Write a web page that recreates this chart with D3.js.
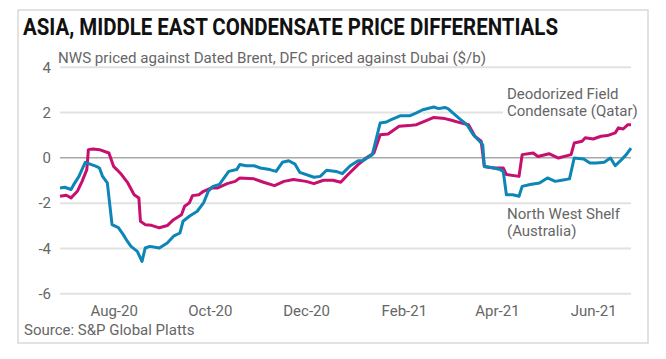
<!DOCTYPE html>
<html>
<head>
<meta charset="utf-8">
<script src="https://cdn.jsdelivr.net/npm/d3@7/dist/d3.min.js"></script>
<style>
  html, body { margin: 0; padding: 0; background: #fff; }
  svg { display: block; font-family: Roboto, "Noto Sans", sans-serif; }
</style>
</head>
<body>
<svg id="chart" width="666" height="359"></svg>
<script>
const titleText = "ASIA, MIDDLE EAST CONDENSATE PRICE DIFFERENTIALS";
const subtitleText = "NWS priced against Dated Brent, DFC priced against Dubai ($/b)";
const sourceText = "Source: S&P Global Platts";
const yTicks = [-6, -4, -2, 0, 2, 4];
const xTickDates = ["2020-08-01", "2020-10-01", "2020-12-01", "2021-02-01", "2021-04-01", "2021-06-01"];

// North West Shelf (Australia)
const nwsDates = ["2020-06-28","2020-07-01","2020-07-05","2020-07-07","2020-07-10","2020-07-14","2020-07-21","2020-07-23","2020-07-25","2020-07-28","2020-07-31","2020-08-04","2020-08-07","2020-08-09","2020-08-12","2020-08-16","2020-08-19","2020-08-21","2020-08-24","2020-08-30","2020-09-04","2020-09-08","2020-09-12","2020-09-14","2020-09-18","2020-09-23","2020-09-27","2020-09-30","2020-10-03","2020-10-07","2020-10-10","2020-10-13","2020-10-18","2020-10-20","2020-10-24","2020-10-29","2020-11-02","2020-11-08","2020-11-12","2020-11-16","2020-11-20","2020-11-24","2020-11-27","2020-12-06","2020-12-10","2020-12-14","2020-12-20","2020-12-24","2020-12-29","2021-01-03","2021-01-06","2021-01-12","2021-01-17","2021-01-21","2021-01-24","2021-01-30","2021-02-05","2021-02-09","2021-02-13","2021-02-20","2021-02-23","2021-02-27","2021-03-01","2021-03-04","2021-03-09","2021-03-13","2021-03-17","2021-03-21","2021-03-23","2021-03-24","2021-03-30","2021-04-03","2021-04-05","2021-04-07","2021-04-11","2021-04-15","2021-04-17","2021-04-22","2021-04-28","2021-05-03","2021-05-08","2021-05-12","2021-05-17","2021-05-20","2021-05-26","2021-05-30","2021-06-03","2021-06-08","2021-06-12","2021-06-15","2021-06-19","2021-06-22","2021-06-25"];
const nwsValues = [-1.35,-1.32,-1.42,-1.17,-0.84,-0.22,-0.4,-0.47,-0.84,-1.13,-2.97,-3.1,-3.4,-3.63,-3.93,-4.15,-4.59,-4.0,-3.93,-4.0,-3.78,-3.48,-3.34,-2.82,-2.6,-2.38,-2.01,-1.5,-1.28,-1.2,-0.91,-0.62,-0.54,-0.32,-0.37,-0.37,-0.47,-0.54,-0.62,-0.22,-0.15,-0.3,-0.66,-0.88,-0.84,-0.57,-0.62,-0.72,-0.37,-0.15,-0.15,0.12,1.52,1.56,1.66,1.84,1.84,1.96,2.1,2.22,2.15,2.2,2.15,1.96,1.66,1.44,1.0,0.71,0.56,-0.4,-0.47,-0.54,-0.62,-1.65,-1.65,-1.72,-1.28,-1.2,-1.13,-0.91,-1.06,-1.01,-0.95,-0.03,-0.07,-0.25,-0.25,-0.22,-0.03,-0.37,-0.1,0.12,0.41];

// Deodorized Field Condensate (Qatar)
const dfcDates = ["2020-06-28","2020-07-02","2020-07-05","2020-07-09","2020-07-12","2020-07-15","2020-07-16","2020-07-19","2020-07-23","2020-07-29","2020-08-01","2020-08-03","2020-08-06","2020-08-10","2020-08-14","2020-08-17","2020-08-18","2020-08-21","2020-08-25","2020-08-30","2020-09-04","2020-09-08","2020-09-13","2020-09-15","2020-09-18","2020-09-20","2020-09-24","2020-09-27","2020-10-02","2020-10-06","2020-10-12","2020-10-17","2020-10-20","2020-10-29","2020-11-04","2020-11-11","2020-11-17","2020-11-23","2020-12-01","2020-12-06","2020-12-12","2020-12-18","2020-12-23","2020-12-27","2021-01-03","2021-01-08","2021-01-13","2021-01-17","2021-01-22","2021-01-29","2021-02-04","2021-02-09","2021-02-14","2021-02-20","2021-02-27","2021-03-02","2021-03-09","2021-03-14","2021-03-18","2021-03-22","2021-03-24","2021-03-30","2021-04-05","2021-04-07","2021-04-15","2021-04-17","2021-04-24","2021-04-27","2021-05-04","2021-05-10","2021-05-18","2021-05-20","2021-05-25","2021-05-27","2021-06-01","2021-06-06","2021-06-10","2021-06-15","2021-06-17","2021-06-20","2021-06-23","2021-06-25"];
const dfcValues = [-1.72,-1.67,-1.79,-1.5,-1.06,-0.54,0.34,0.37,0.34,0.19,-0.4,-0.54,-0.76,-1.13,-1.65,-1.79,-2.82,-2.97,-3.0,-3.11,-3.01,-2.75,-2.53,-2.16,-2.01,-1.69,-1.65,-1.5,-1.35,-1.35,-1.16,-1.06,-0.91,-0.95,-1.1,-1.25,-1.06,-0.98,-1.06,-1.16,-1.01,-1.01,-1.1,-0.8,-0.32,-0.03,0.19,1.0,1.03,1.37,1.4,1.44,1.59,1.76,1.71,1.66,1.52,1.44,0.93,0.71,-0.4,-0.47,-0.47,-0.76,-0.84,0.12,0.19,0.04,0.16,-0.03,0.12,0.63,0.71,0.86,0.81,0.93,0.96,1.08,1.3,1.25,1.44,1.44];

const blue = "#0c86b6";
const pink = "#c70f6f";
const parse = d3.timeParse("%Y-%m-%d");

const svg = d3.select("#chart");

// frame
svg.append("rect").attr("x", 18).attr("y", 10).attr("width", 630).attr("height", 333)
  .attr("fill", "#fff").attr("stroke", "#cfcfcf").attr("stroke-width", 1.2);

svg.append("text").attr("x", 23).attr("y", 35)
  .attr("font-size", 24).attr("font-weight", 700).attr("fill", "#111")
  .attr("textLength", 535).attr("lengthAdjust", "spacingAndGlyphs")
  .text(titleText);

svg.append("text").attr("x", 58).attr("y", 63)
  .attr("font-size", 15).attr("fill", "#666")
  .attr("textLength", 428).attr("lengthAdjust", "spacingAndGlyphs")
  .text(subtitleText);

const x = d3.scaleTime().domain([parse("2020-06-28"), parse("2021-06-25")]).range([60, 631]);
const y = d3.scaleLinear().domain([-6, 4]).range([293.3, 66.7]);

// y axis with gridlines
const yAxis = svg.append("g").attr("transform", "translate(60,0)")
  .call(d3.axisLeft(y).tickValues(yTicks).tickSize(-571).tickFormat(d3.format("d")));
yAxis.select(".domain").remove();
yAxis.selectAll(".tick line")
  .attr("stroke", d => d === 0 ? "#a8a8a8" : "#e2e2e2")
  .attr("stroke-width", d => d === 0 ? 1.5 : 2);
yAxis.selectAll(".tick text")
  .attr("x", -9).attr("dy", "0.62em").attr("y", -4)
  .attr("font-size", 15).attr("fill", "#666").attr("font-family", "Roboto, sans-serif")
  .text(d => d < 0 ? "-" + Math.abs(d) : d);

// x axis
const xAxis = svg.append("g").attr("transform", "translate(0,300)")
  .call(d3.axisBottom(x).tickValues(xTickDates.map(parse)).tickSize(0).tickFormat(d3.timeFormat("%b-%y")));
xAxis.select(".domain").remove();
xAxis.selectAll(".tick text")
  .attr("font-size", 15).attr("fill", "#666").attr("font-family", "Roboto, sans-serif").attr("dy", "0.71em").attr("y", 5);

svg.append("text").attr("x", 24).attr("y", 335)
  .attr("font-size", 15).attr("fill", "#666").text(sourceText);

const line = d3.line().x(d => x(d[0])).y(d => y(d[1]));
const nws = nwsDates.map((d, i) => [parse(d), nwsValues[i]]);
const dfc = dfcDates.map((d, i) => [parse(d), dfcValues[i]]);

svg.append("path").datum(dfc).attr("d", line)
  .attr("fill", "none").attr("stroke", pink).attr("stroke-width", 3).attr("stroke-linejoin", "round");
svg.append("path").datum(nws).attr("d", line)
  .attr("fill", "none").attr("stroke", blue).attr("stroke-width", 3).attr("stroke-linejoin", "round");

// annotations
const ann = svg.append("g").attr("font-size", 15).attr("fill", "#666");
ann.append("rect").attr("x", 503).attr("y", 86).attr("width", 138).attr("height", 34).attr("fill", "#fff");
ann.append("text").attr("x", 507).attr("y", 99).text("Deodorized Field");
ann.append("text").attr("x", 507).attr("y", 116).text("Condensate (Qatar)");
ann.append("text").attr("x", 507).attr("y", 219).text("North West Shelf");
ann.append("text").attr("x", 507).attr("y", 236).text("(Australia)");
</script>
</body>
</html>
